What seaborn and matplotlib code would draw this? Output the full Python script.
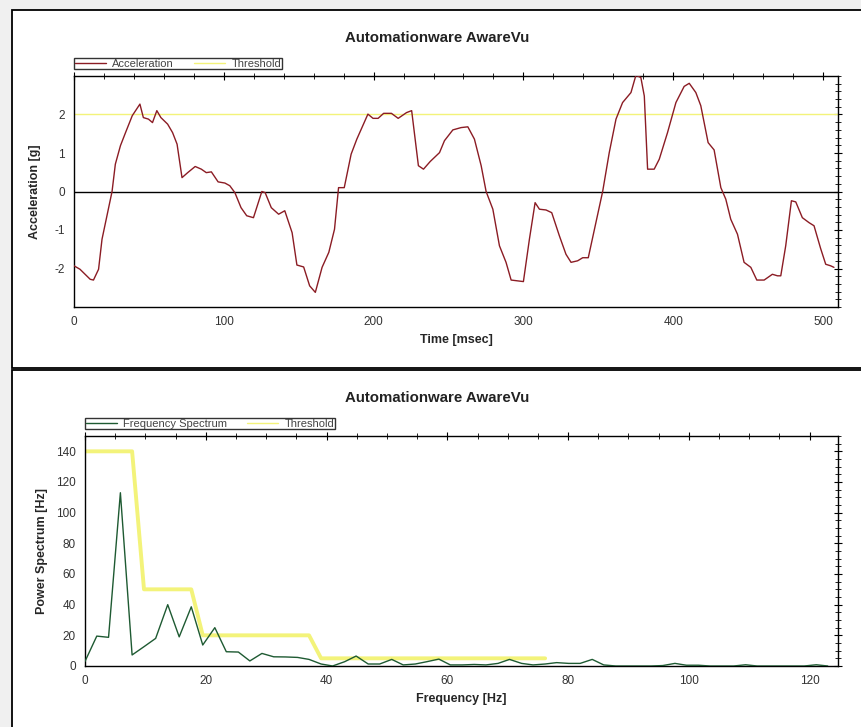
import matplotlib
matplotlib.use("Agg")
import matplotlib.pyplot as plt
import matplotlib.patches as mpatches
from matplotlib.ticker import MultipleLocator
import pandas as pd
import seaborn as sns

# acceleration trace
time_ms = [0, 4, 10.8, 13, 16.4, 18.7, 22, 25.4, 27.6, 31, 34.4, 38.9, 44, 46.3, 49.7,
           52.4, 55.3, 58, 62.5, 65.8, 68.8, 72.1, 75.9, 80.9, 85, 88.3, 91.7, 96.2,
           100.7, 104, 107.4, 111.5, 115.3, 119.8, 125.4, 127.6, 131.7, 136.6, 140.7,
           145.6, 148.8, 153.3, 157.3, 161.1, 165.6, 170.1, 173.9, 176.6, 180.4, 185,
           188.8, 192.8, 196.2, 199.6, 203, 206.7, 211.9, 216.4, 222, 225.4, 229.9,
           233.3, 237.8, 244, 247.3, 252.9, 258.4, 262.9, 267.3, 271.8, 275.1, 279.6,
           284, 288.4, 291.8, 296.2, 300, 304, 307.8, 310.7, 315.1, 318.9, 324, 328.4,
           331.8, 336.2, 339.6, 343.3, 348.4, 352.9, 357.3, 361.8, 366.2, 371.8, 375.1,
           378.4, 380.7, 382.9, 387.3, 390.7, 396.2, 401.8, 407.3, 410.7, 415.1, 418.4,
           423.3, 427.3, 431.8, 435.1, 438.4, 442.9, 447.3, 451.8, 455.8, 460.7, 466.2,
           469.6, 471.8, 475.1, 478.9, 481.8, 486.2, 490.7, 494, 498.4, 501.8, 505.1,
           507.3]
accel_g = [-1.93, -2.02, -2.28, -2.3, -2.02, -1.24, -0.63, 0, 0.71, 1.19, 1.53, 1.97,
           2.27, 1.92, 1.88, 1.79, 2.1, 1.92, 1.75, 1.53, 1.23, 0.36, 0.49, 0.65, 0.58,
           0.49, 0.51, 0.25, 0.22, 0.15, -0.03, -0.42, -0.63, -0.68, 0, -0.03, -0.42,
           -0.59, -0.5, -1.07, -1.91, -1.96, -2.45, -2.62, -1.97, -1.58, -0.98, 0.1, 0.1,
           0.97, 1.36, 1.71, 2.01, 1.9, 1.9, 2.03, 2.03, 1.9, 2.05, 2.1, 0.67, 0.58,
           0.78, 1.01, 1.32, 1.6, 1.66, 1.68, 1.36, 0.67, 0, -0.46, -1.41, -1.84, -2.3,
           -2.32, -2.34, -1.24, -0.29, -0.46, -0.48, -0.55, -1.15, -1.63, -1.84, -1.8,
           -1.72, -1.72, -0.81, 0, 1.01, 1.88, 2.31, 2.57, 3.02, 2.96, 2.48, 0.58, 0.58,
           0.84, 1.53, 2.31, 2.73, 2.81, 2.57, 2.23, 1.27, 1.08, 0.1, -0.2, -0.72, -1.11,
           -1.84, -1.97, -2.3, -2.3, -2.15, -2.19, -2.19, -1.41, -0.24, -0.27, -0.68,
           -0.81, -0.89, -1.48, -1.89, -1.93, -1.97]
accel_threshold = 2.0

# frequency spectrum, bins of ~1.95 Hz
freq_hz = [0, 1.95, 3.9, 5.86, 7.8, 9.77, 11.7, 13.7, 15.6, 17.6, 19.5, 21.5, 23.4,
           25.4, 27.3, 29.3, 31.25, 33.2, 35.2, 37.1, 39.1, 41, 43, 44.9, 46.9, 48.8,
           50.8, 52.7, 54.7, 56.6, 58.6, 60.5, 62.5, 64.45, 66.4, 68.4, 70.3, 72.3,
           74.2, 76.2, 78.1, 80.1, 82, 84, 85.9, 87.9, 89.8, 91.8, 93.75, 95.7, 97.7,
           99.6, 101.6, 103.5, 105.5, 107.4, 109.4, 111.3, 113.3, 115.2, 117.2, 119.1,
           121.1, 123]
power = [3, 19.5, 18.7, 113, 7.2, 12.6, 18, 40, 19, 38.6, 13.7, 25, 9.3, 9.1, 3.3, 8.2,
         6, 5.9, 5.6, 4.3, 1.3, 0, 2.8, 6.5, 1.3, 1.3, 4.3, 0.7, 1.3, 2.8, 4.5, 0.7, 0.7,
         1, 0.7, 1.7, 4.3, 1.7, 0.7, 1.3, 2.2, 1.7, 1.7, 4.3, 0.7, 0, 0, 0, 0, 0.3, 1.7,
         0.5, 0.5, 0, 0, 0, 0.8, 0, 0, 0, 0, 0, 0.8, 0]
thr_freq = [0, 7.8, 9.77, 17.6, 19.5, 37.1, 39.1, 76.2]
thr_power = [140, 140, 50, 50, 20, 20, 5, 5]

accel_df = pd.DataFrame({"t": time_ms, "a": accel_g})
spec_df = pd.DataFrame({"f": freq_hz, "p": power})
thr_df = pd.DataFrame({"f": thr_freq, "p": thr_power})

sns.set_style("white")
plt.rcParams["font.family"] = ["Liberation Sans", "DejaVu Sans"]
plt.rcParams["axes.unicode_minus"] = False
label_font = {"family": ["Liberation Sans Narrow", "Liberation Sans", "DejaVu Sans"],
              "weight": "bold", "size": 9}

W, H = 861, 727
fig = plt.figure(figsize=(W / 100, H / 100), dpi=100, facecolor="#f0f0f0")

# white panels with black outlines
for (x0, y0, x1, y1) in [(12, 10, 870, 368), (12, 370, 870, 740)]:
    fig.patches.append(mpatches.Rectangle((x0 / W, 1 - y1 / H), (x1 - x0) / W, (y1 - y0) / H,
                                          transform=fig.transFigure, facecolor="white",
                                          edgecolor="black", linewidth=1.3, zorder=-5))

red = "#8b1c24"
green = "#1e5a32"
yellow = "#f3f37a"


def style_axes(ax):
    for s in ax.spines.values():
        s.set_color("black")
        s.set_linewidth(1.0)
    ax.tick_params(which="both", top=True, right=True, labelsize=8.5, labelcolor="#333333",
                   color="black")
    ax.tick_params(which="major", length=6, direction="inout")
    ax.tick_params(which="minor", length=4, direction="inout")
    ax.tick_params(which="both", axis="x", labeltop=False)
    ax.tick_params(which="both", axis="y", labelright=False)
    ax.set_facecolor("white")


legend_kw = dict(ncol=2, loc="lower left", borderaxespad=0, fontsize=8, frameon=True,
                 fancybox=False, edgecolor="black", handlelength=2.8, handletextpad=0.6,
                 columnspacing=1.8, borderpad=0.05, labelcolor="#444444")

# top: acceleration
ax1 = fig.add_axes([74 / W, 1 - 307 / H, (838 - 74) / W, (307 - 76) / H])
ax1.axhline(0, color="black", linewidth=1.0, zorder=1)
ax1.axhline(accel_threshold, color=yellow, linewidth=1.0, label="Threshold", zorder=2)
sns.lineplot(data=accel_df, x="t", y="a", ax=ax1, color=red, linewidth=1.0,
             label="Acceleration", zorder=3)
ax1.set_xlim(0, 510)
ax1.set_ylim(-3, 3)
ax1.set_yticks([-2, -1, 0, 1, 2])
ax1.xaxis.set_major_locator(MultipleLocator(100))
ax1.xaxis.set_minor_locator(MultipleLocator(20))
ax1.yaxis.set_minor_locator(MultipleLocator(0.2))
style_axes(ax1)
ax1.set_xlabel("Time [msec]", fontdict=label_font, labelpad=4)
ax1.set_ylabel("Acceleration [g]", fontdict=label_font, labelpad=10)
h, l = ax1.get_legend_handles_labels()
order = [l.index("Acceleration"), l.index("Threshold")]
ax1.legend([h[i] for i in order], [l[i] for i in order], bbox_to_anchor=(0, 1.03),
           **legend_kw)
fig.text(437 / W, 1 - 38.5 / H, "Automationware AwareVu", ha="center", va="center",
         fontsize=10.8, fontweight="bold", color="#222222")

# bottom: frequency spectrum
ax2 = fig.add_axes([85 / W, 1 - 666 / H, (838 - 85) / W, (666 - 436) / H])
sns.lineplot(data=thr_df, x="f", y="p", ax=ax2, color=yellow, linewidth=2.8,
             label="Threshold", zorder=2)
sns.lineplot(data=spec_df, x="f", y="p", ax=ax2, color=green, linewidth=1.0,
             label="Frequency Spectrum", zorder=3)
ax2.set_xlim(0, 124.7)
ax2.set_ylim(0, 150)
ax2.xaxis.set_major_locator(MultipleLocator(20))
ax2.xaxis.set_minor_locator(MultipleLocator(5))
ax2.yaxis.set_major_locator(MultipleLocator(20))
ax2.yaxis.set_minor_locator(MultipleLocator(5))
style_axes(ax2)
ax2.set_xlabel("Frequency [Hz]", fontdict=label_font, labelpad=4)
ax2.set_ylabel("Power Spectrum [Hz]", fontdict=label_font, labelpad=6)
h, l = ax2.get_legend_handles_labels()
order = [l.index("Frequency Spectrum"), l.index("Threshold")]
ax2.legend([h[i] for i in order], [l[i] for i in order], bbox_to_anchor=(0, 1.03),
           **legend_kw)
for line in ax2.get_legend().get_lines():
    line.set_linewidth(1.0)
fig.text(437 / W, 1 - 398.5 / H, "Automationware AwareVu", ha="center", va="center",
         fontsize=10.8, fontweight="bold", color="#222222")

fig.savefig("out.png", dpi=100, facecolor=fig.get_facecolor())
plt.close(fig)
